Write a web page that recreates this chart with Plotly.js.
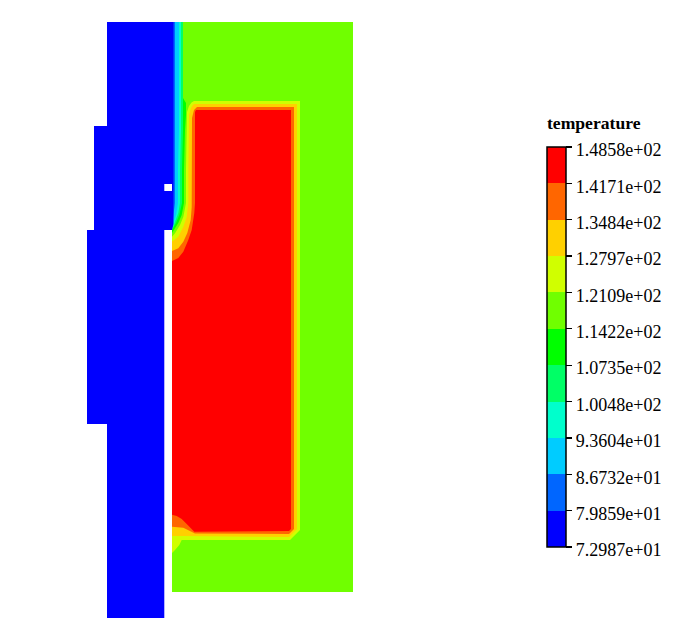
<!DOCTYPE html>
<html>
<head>
<meta charset="utf-8">
<script src="https://cdn.plot.ly/plotly-3.0.0.min.js"></script>
<style>html,body{margin:0;padding:0;background:#fff}#chart{width:684px;height:630px}</style>
</head>
<body>
<div id="chart"></div>
<script>
// Temperature contour levels, lowest to highest
const levels = [72.987,79.859,86.732,93.604,100.48,107.35,114.22,121.09,127.97,134.84,141.71,148.58];
const levelLabels = ["7.2987e+01","7.9859e+01","8.6732e+01","9.3604e+01","1.0048e+02","1.0735e+02","1.1422e+02","1.2109e+02","1.2797e+02","1.3484e+02","1.4171e+02","1.4858e+02"];
const bandColors = ["#0000ff","#0066ff","#00ccff","#00ffcc","#00ff66","#00ff00","#70ff00","#d0ff00","#ffd000","#ff6600","#ff0000"];

// Contour outlines in model coordinates (y downward)
const fluidX = [172,353,353,172];
const fluidY = [22,22,592,592];

const band7X = [194,300,300,290,181.7,179.3,175,172,172,175,180,183.3,186,186,187,189,191.5];
const band7Y = [101,101,530,540,540,545,550,553,236.7,233.3,225,217,203,170,112,106,102.5];

const band8X = [194,297,297,289,183,172,172,173.3,178.3,183.3,186.7,188.3,188.3,189,191,192.5];
const band8Y = [104,104,529,537,536,536,241.3,240.7,236.7,226.7,217,203,170,115,108,105.5];

const band9X = [197,294,294,289,195,190,183.3,172,172,178.3,183.3,187.3,190.7,191.7,191.7,192,194];
const band9Y = [107,107,529,534,533.5,530.7,527.7,526.7,251,248.3,241.7,233,220,207,170,118,110];

const band10X = [196,291,291,289,194.3,191.7,186.7,181.7,176.7,172,172,178.3,183.3,188.3,191.7,194.3,195,195];
const band10Y = [110,110,529,531,531.7,529.3,524,519,516,514.7,261,258,251.7,240,230,213,203,112];

const band5X = [172,183,186,186,185,184,184,181.7,178.3,173.3,172];
const band5Y = [98,98,103,115,130,170,203,215,223,231.7,233];

const band4X = [172,183,183,182,182,179.3,176,172.7,172];
const band4Y = [22,22,130,170,203,215,223,228.3,230];

const band3X = [172,181,181,180,180,178.3,175,174,172];
const band3Y = [22,22,130,170,203,213,221.7,225,229];

const band2X = [172,179,179,178,178,176,174.3,172];
const band2Y = [22,22,130,170,203,215,220,226];

const band1X = [172,175,175,174,173,172];
const band1Y = [22,22,203,213,222,226];

const solidX = [107,173.5,173.5,172,172,164.3,164.3,107,107,87,87,94,94,107];
const solidY = [22,22,224,229,230,230,618,618,424,424,230,230,126,126];

const voidX = [164.3,172,172,164.3];
const voidY = [184,184,191,191];

const regions = [
  [fluidX, fluidY, bandColors[6]],
  [band7X, band7Y, bandColors[7]],
  [band8X, band8Y, bandColors[8]],
  [band9X, band9Y, bandColors[9]],
  [band10X, band10Y, bandColors[10]],
  [band5X, band5Y, bandColors[5]],
  [band4X, band4Y, bandColors[4]],
  [band3X, band3Y, bandColors[3]],
  [band2X, band2Y, bandColors[2]],
  [band1X, band1Y, bandColors[1]],
  [solidX, solidY, bandColors[0]],
  [voidX, voidY, "#ffffff"]
];

const traces = regions.map(([x, y, c]) => ({
  type: "scatter", mode: "lines", x: x, y: y, fill: "toself",
  fillcolor: c, line: {width: 0, color: c}, hoverinfo: "skip", showlegend: false
}));

const n = bandColors.length;
const scale = [];
bandColors.forEach((c, i) => { scale.push([i / n, c]); scale.push([(i + 1) / n, c]); });

traces.push({
  type: "scatter", mode: "markers",
  x: levels.map(() => -50), y: levels.map(() => -50),
  hoverinfo: "skip", showlegend: false,
  marker: {
    color: levels, cmin: levels[0], cmax: levels[n], colorscale: scale, showscale: true, size: 1,
    colorbar: {
      tickvals: levels, ticktext: levelLabels, ticks: "outside", ticklen: 6, tickwidth: 1.2, tickcolor: "#000",
      tickfont: {family: "Liberation Serif", size: 18, color: "#000"},
      thicknessmode: "pixels", thickness: 19, lenmode: "pixels", len: 400,
      x: 547 / 684, xref: "paper", xanchor: "left", y: 1 - 547 / 630, yref: "paper", yanchor: "bottom",
      xpad: 0, ypad: 0, outlinecolor: "#000", outlinewidth: 1.5, bgcolor: "rgba(0,0,0,0)"
    }
  }
});

const layout = {
  width: 684, height: 630, margin: {l: 0, r: 0, t: 0, b: 0},
  paper_bgcolor: "#fff", plot_bgcolor: "#fff", showlegend: false,
  xaxis: {range: [0, 684], visible: false, fixedrange: true},
  yaxis: {range: [630, 0], visible: false, fixedrange: true},
  annotations: [{
    text: "<b>temperature</b>", xref: "paper", yref: "paper", x: 546 / 684, y: 1 - 123 / 630,
    xanchor: "left", yanchor: "middle", showarrow: false, borderpad: 0,
    font: {family: "Liberation Serif", size: 17.6, color: "#000"}
  }]
};
Plotly.newPlot("chart", traces, layout, {displayModeBar: false, staticPlot: true}).then(() => {
  document.querySelectorAll(".colorbar text").forEach(t => t.setAttribute("dy", "3"));
});
</script>
</body>
</html>
